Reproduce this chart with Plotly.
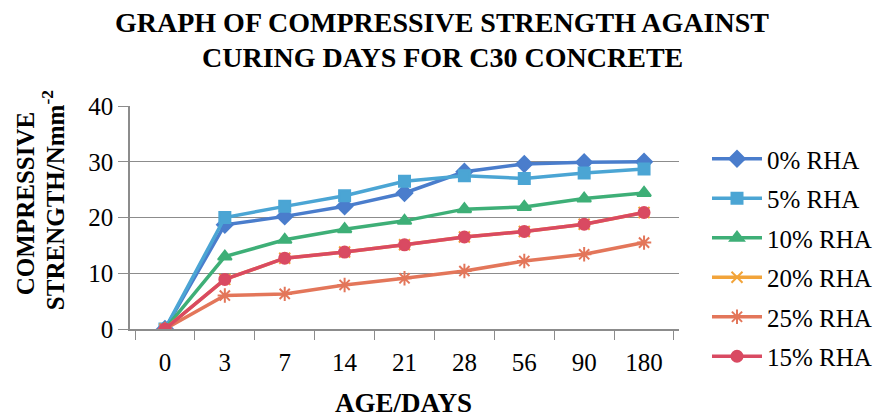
import plotly.graph_objects as go

# Curing age (days) used as categories
days = ["0", "3", "7", "14", "21", "28", "56", "90", "180"]

# Compressive strength (N/mm^2) per rice husk ash replacement level
rha_0 = [0, 18.7, 20.2, 22.0, 24.4, 28.2, 29.6, 29.9, 30.0]
rha_5 = [0, 20.0, 22.0, 23.9, 26.5, 27.5, 27.0, 28.0, 28.7]
rha_10 = [0, 13.0, 16.0, 17.9, 19.4, 21.5, 21.9, 23.4, 24.4]
rha_20 = [0, 8.9, 12.7, 13.8, 15.1, 16.5, 17.5, 18.8, 20.9]
rha_25 = [0, 6.0, 6.3, 7.9, 9.1, 10.4, 12.2, 13.4, 15.5]
rha_15 = [0, 8.9, 12.7, 13.8, 15.1, 16.5, 17.5, 18.8, 20.9]

series = [
    ("0% RHA", rha_0, "#4A7DCC", "diamond", 12),
    ("5% RHA", rha_5, "#4BA5D4", "square", 11),
    ("10% RHA", rha_10, "#3EAF77", "triangle-up", 12),
    ("20% RHA", rha_20, "#F2A43A", "x-thin", 11),
    ("25% RHA", rha_25, "#E3765A", "asterisk", 12),
    ("15% RHA", rha_15, "#D94A62", "circle", 11),
]

serif = "Liberation Serif, Times New Roman, serif"

# plot area in pixels
L, R, T, B = 130, 680, 106, 329
W, H = 888, 419


def px(x):
    return (x - L) / (R - L)


def py(y):
    return (B - y) / (B - T)


fig = go.Figure()
for i, (name, vals, color, symbol, size) in enumerate(series):
    fig.add_trace(go.Scatter(
        x=days, y=vals, name=name, mode="lines+markers", legendgroup=f"g{i}",
        line=dict(color=color, width=3.5),
        marker=dict(symbol=symbol, size=size, color=color,
                    line=dict(color=color, width=2)),
    ))

annotations = [
    dict(text="<b>GRAPH OF COMPRESSIVE STRENGTH AGAINST</b>", x=px(443), y=py(22),
         font=dict(family=serif, size=28)),
    dict(text="<b>CURING DAYS FOR C30 CONCRETE</b>", x=px(443), y=py(57),
         font=dict(family=serif, size=28)),
    dict(text="<b>AGE/DAYS</b>", x=px(404), y=py(403),
         font=dict(family=serif, size=27)),
    dict(text="<b>COMPRESSIVE</b>", x=px(25), y=py(204), textangle=-90,
         font=dict(family=serif, size=25)),
    dict(text="<b>STRENGTH/Nmm<sup>-2</sup></b>", x=px(53), y=py(200), textangle=-90,
         font=dict(family=serif, size=25)),
]
for a in annotations:
    a.update(xref="paper", yref="paper", xanchor="center", yanchor="middle",
             showarrow=False)

fig.update_layout(
    width=W, height=H,
    margin=dict(l=L, r=W - R, t=T, b=H - B),
    paper_bgcolor="white", plot_bgcolor="white",
    font=dict(family=serif, color="black", size=18),
    annotations=annotations,
    legend=dict(
        x=px(707), xanchor="left", y=py(136), yanchor="top",
        font=dict(family=serif, size=25), tracegroupgap=4,
        itemwidth=50, bgcolor="rgba(0,0,0,0)", maxheight=400,
    ),
    showlegend=True,
)

fig.update_xaxes(
    type="category", tickson="boundaries", ticks="outside", ticklen=9,
    tickcolor="#8c8c8c", showline=True, linecolor="#8c8c8c", linewidth=1.5,
    showgrid=False, tickfont=dict(family=serif, size=25), ticklabelstandoff=10,
)
fig.update_yaxes(
    range=[0, 40], dtick=10, ticks="outside", ticklen=10, tickcolor="#8c8c8c",
    showline=True, linecolor="#8c8c8c", linewidth=1.5,
    showgrid=True, gridcolor="#8c8c8c", gridwidth=1.3, zeroline=False,
    tickfont=dict(family=serif, size=25), ticklabelstandoff=0,
)

fig.write_html("out.html")
